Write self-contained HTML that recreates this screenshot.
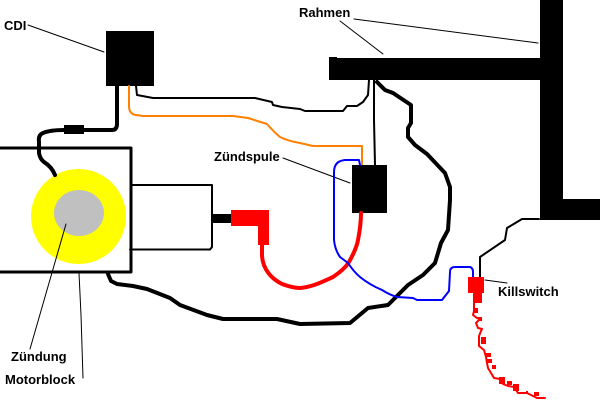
<!DOCTYPE html>
<html><head><meta charset="utf-8"><style>
html,body{margin:0;padding:0;background:#fff;width:600px;height:400px;overflow:hidden}
svg{display:block}
text{font-family:"Liberation Sans",sans-serif;font-weight:bold;font-size:13px;fill:#000}
polyline,line,path.w{fill:none;stroke-linejoin:round;stroke-linecap:round}
</style></head><body>
<svg width="600" height="400" viewBox="0 0 600 400" xmlns="http://www.w3.org/2000/svg">
<rect width="600" height="400" fill="#fff"/>
<!-- Motor -->
<ellipse cx="78.5" cy="216.5" rx="47.5" ry="47.5" fill="#ff0"/>
<ellipse cx="79" cy="213" rx="25" ry="23" fill="#c0c0c0"/>
<polyline points="0,148 131,148 131,272 0,272" stroke="#000" stroke-width="3" stroke-linejoin="miter" stroke-linecap="butt"/>
<polyline points="132,185 212,185 212,247 210,249.5 130,249.5" stroke="#000" stroke-width="2"/>
<!-- CDI -->
<rect x="106" y="31" width="48" height="55" fill="#000"/>
<path class="w" d="M117 86V124Q117 130 112 130H64Q50 130 43 133Q38 135 39 142L39 153Q40 159 44 162Q52 167 55 175" stroke="#000" stroke-width="4"/>
<rect x="64" y="125" width="20" height="9" fill="#000"/>
<!-- Frame -->
<rect x="329" y="58" width="211" height="22" fill="#000"/>
<rect x="329" y="57" width="8" height="2" fill="#000"/>
<rect x="540" y="0" width="23" height="220" fill="#000"/>
<rect x="540" y="199" width="60" height="21" fill="#000"/>
<!-- Leaders -->
<g stroke="#000" stroke-width="1">
<line x1="28" y1="25" x2="104" y2="52"/>
<line x1="340" y1="21" x2="383" y2="54"/>
<line x1="354" y1="19" x2="538" y2="43"/>
<line x1="283" y1="158" x2="350" y2="183"/>
<line x1="485" y1="280" x2="507" y2="283"/>
<line x1="66" y1="224" x2="30" y2="349"/>
<polyline points="79,273 81,315 83,378"/>
</g>
<!-- Orange -->
<path class="w" d="M129 86V106Q129 114 136 115L143 116H233L248 118L267 124Q274 132 280 137Q288 141 300 143L313 146H362V165" stroke="#ff8000" stroke-width="2"/>
<!-- Thin black wires -->
<polyline points="136,86 137,95 153,98 255,98 272,102 273,105 282,107 300,109 305,111 343,111 347,106 357,106 363,102 368,95 369,80" stroke="#000" stroke-width="2"/>
<polyline points="374,80 374,120 375,165" stroke="#000" stroke-width="2"/>
<!-- Coil -->
<rect x="352" y="165" width="35" height="48" fill="#000"/>
<!-- Thick black loop -->
<polyline points="377,82 385,90 393,93 411,105 411,123 408,128 408,137 415,145 427,154 445,173 450,187 450,200 448,230 441,243 435,263 423,275 408,285 388,305 368,308 350,323 300,324 277,319 223,319 207,315 180,305 170,298 147,289 133,286 117,284 111,281 108,274" stroke="#000" stroke-width="4"/>
<!-- Spark plug -->
<rect x="212" y="214" width="19" height="9" fill="#000"/>
<path class="w" d="M262 245V256C263 270 272 279 282 284C290 287 296 288 300 288C312 287 322 282 333 277C342 271 346 267 349 262C354 253 357 246 358 240C360 230 361 222 361 213" stroke="#f00" stroke-width="4"/>
<rect x="231" y="210" width="38" height="16" fill="#f00"/>
<rect x="258" y="210" width="11" height="35" fill="#f00"/>
<!-- Blue -->
<path class="w" d="M360 165L359 160H345Q334 161 334 172V240Q335 250 340 257L348 263Q354 272 360 277Q370 285 382 290Q390 295 397 297L413 298L417 300H442L449 291L450 272Q450 267 455 267H470Q473 268 473 272V277" stroke="#00f" stroke-width="2"/>
<!-- Killswitch wire -->
<polyline points="480,277 480,257 505,240 507,228 522,219 539,219" stroke="#000" stroke-width="2"/>
<!-- Killswitch -->
<rect x="468" y="277" width="16" height="16" fill="#f00"/>
<rect x="473" y="293" width="9" height="10" fill="#f00"/>
<polyline points="474,303 474,311 473,315 477,318 480,319 476,323 478,328 482,329 481,331 479,336 479,346 484,350 486,357 487,363 488,368 491,373 494,378 500,379 503,384 508,386 514,387 518,393 527,393 537,398 545,398" stroke="#f00" stroke-width="2"/>
<g fill="#f00">
<rect x="473" y="308" width="5" height="5"/><rect x="478" y="317" width="4" height="4"/>
<rect x="481" y="337" width="5" height="7"/><rect x="485" y="353" width="6" height="4"/>
<rect x="487" y="359" width="5" height="4"/><rect x="492" y="365" width="4" height="4"/>
<rect x="499" y="377" width="6" height="7"/><rect x="507" y="381" width="5" height="4"/>
<rect x="513" y="384" width="6" height="7"/><rect x="534" y="392" width="5" height="4"/>
<rect x="526" y="391" width="2" height="2"/>
</g>
<!-- Labels -->
<text x="4" y="30">CDI</text>
<text x="299" y="17">Rahmen</text>
<text x="214" y="161">Zündspule</text>
<text x="498" y="296">Killswitch</text>
<text x="11" y="361">Zündung</text>
<text x="5" y="384">Motorblock</text>
</svg>
</body></html>
